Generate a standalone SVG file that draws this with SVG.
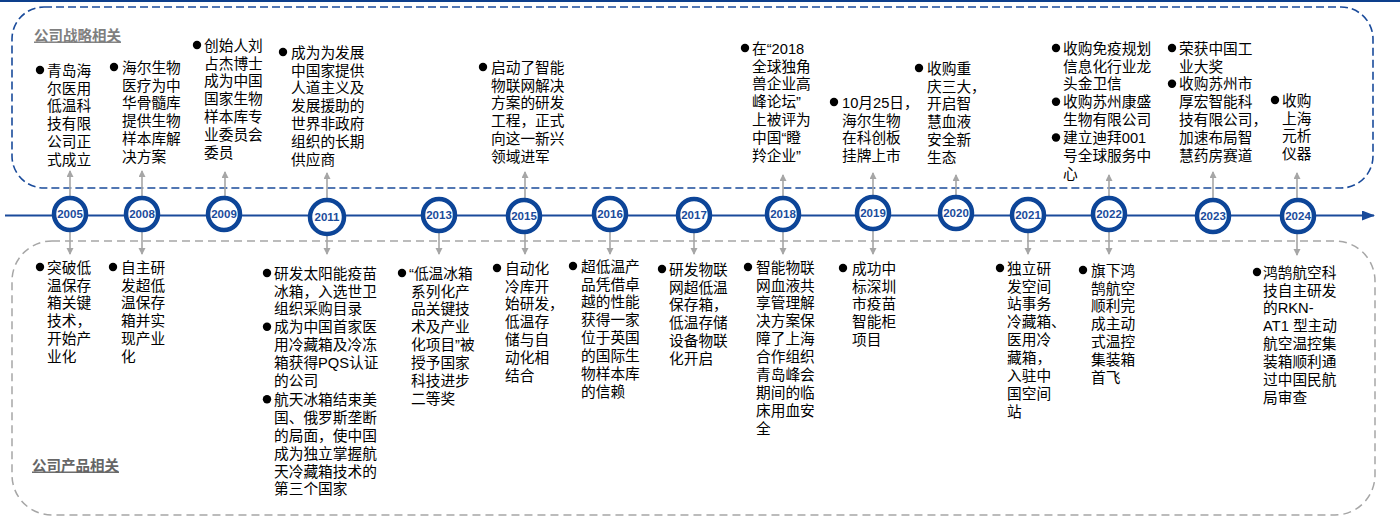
<svg xmlns="http://www.w3.org/2000/svg" width="1400" height="517" viewBox="0 0 1400 517">
<style>
.t{font-family:"Liberation Sans","Noto Sans CJK SC",sans-serif;font-size:14.7px;fill:#000}
.b{fill:#000}
.yr{font-family:"Liberation Sans",Arial,sans-serif;font-size:11.5px;font-weight:bold;fill:#1a4b9b;text-anchor:middle}
.ring{fill:#fff;stroke:#0d4598;stroke-width:4.5}
.con{stroke:#a6a6a6;stroke-width:1.6;fill:none;marker-end:url(#ga)}
.ttl{font-family:"Liberation Sans","Noto Sans CJK SC",sans-serif;font-size:14.5px;font-weight:bold;text-decoration:underline}
</style>
<defs>
<marker id="ga" markerUnits="userSpaceOnUse" markerWidth="8" markerHeight="8" refX="6" refY="3.5" orient="auto"><path d="M0,0 L7,3.5 L0,7 Z" fill="#a6a6a6"/></marker>
<marker id="ba" markerUnits="userSpaceOnUse" markerWidth="14" markerHeight="12" refX="12" refY="5" orient="auto"><path d="M0,0 L13,5 L0,10 Z" fill="#1a4b9b"/></marker>
</defs>
<rect x="0" y="0" width="1400" height="2" fill="#0d3f8c"/>
<g id="frames">
<rect x="12" y="7" width="1361" height="181" rx="32" ry="32" fill="none" stroke="#1a4b9b" stroke-width="1.6" stroke-dasharray="8,4"/>
<rect x="12" y="241" width="1363" height="274" rx="40" ry="40" fill="none" stroke="#a6a6a6" stroke-width="1.5" stroke-dasharray="8,5"/>
<text class="ttl" x="34" y="40.5" fill="#7f7f7f">公司战略相关</text>
<text class="ttl" x="32" y="470.5" fill="#666">公司产品相关</text>
</g>
<g id="connectors">
<line x1="5" y1="215.5" x2="1374" y2="215.5" stroke="#1a4b9b" stroke-width="2" marker-end="url(#ba)"/>
<line class="con" x1="70" y1="196" x2="70" y2="171"/>
<line class="con" x1="142" y1="196" x2="142" y2="171"/>
<line class="con" x1="225" y1="196" x2="225" y2="172"/>
<line class="con" x1="327" y1="198" x2="327" y2="173"/>
<line class="con" x1="525" y1="198" x2="525" y2="172"/>
<line class="con" x1="783" y1="196" x2="783" y2="175"/>
<line class="con" x1="873" y1="195" x2="873" y2="173"/>
<line class="con" x1="956" y1="195" x2="956" y2="175"/>
<line class="con" x1="1109" y1="196" x2="1109" y2="175"/>
<line class="con" x1="1213" y1="198" x2="1213" y2="172"/>
<line class="con" x1="1297" y1="198" x2="1297" y2="173"/>
<line class="con" x1="70" y1="232" x2="70" y2="254"/>
<line class="con" x1="142" y1="232" x2="142" y2="254"/>
<line class="con" x1="327" y1="235" x2="327" y2="254"/>
<line class="con" x1="439" y1="233" x2="439" y2="254"/>
<line class="con" x1="525" y1="234" x2="525" y2="254"/>
<line class="con" x1="610" y1="232" x2="610" y2="254"/>
<line class="con" x1="694" y1="233" x2="694" y2="254"/>
<line class="con" x1="783" y1="232" x2="783" y2="254"/>
<line class="con" x1="873" y1="231" x2="873" y2="254"/>
<line class="con" x1="1028" y1="233" x2="1028" y2="254"/>
<line class="con" x1="1109" y1="232" x2="1109" y2="254"/>
<line class="con" x1="1297" y1="234" x2="1297" y2="255"/>
</g>
<g id="y2005"><circle class="ring" cx="70" cy="214" r="16"/><text class="yr" x="70" y="218">2005</text></g>
<g id="y2008"><circle class="ring" cx="142" cy="214" r="16"/><text class="yr" x="142" y="218">2008</text></g>
<g id="y2009"><circle class="ring" cx="224" cy="214" r="16"/><text class="yr" x="224" y="218">2009</text></g>
<g id="y2011"><circle class="ring" cx="327" cy="217" r="17"/><text class="yr" x="327" y="221">2011</text></g>
<g id="y2013"><circle class="ring" cx="439" cy="215" r="16"/><text class="yr" x="439" y="219">2013</text></g>
<g id="y2015"><circle class="ring" cx="524" cy="216" r="16"/><text class="yr" x="524" y="220">2015</text></g>
<g id="y2016"><circle class="ring" cx="610" cy="214" r="16"/><text class="yr" x="610" y="218">2016</text></g>
<g id="y2017"><circle class="ring" cx="694" cy="215" r="16"/><text class="yr" x="694" y="219">2017</text></g>
<g id="y2018"><circle class="ring" cx="783" cy="214" r="16"/><text class="yr" x="783" y="218">2018</text></g>
<g id="y2019"><circle class="ring" cx="873" cy="213" r="16"/><text class="yr" x="873" y="217">2019</text></g>
<g id="y2020"><circle class="ring" cx="956" cy="213" r="16"/><text class="yr" x="956" y="217">2020</text></g>
<g id="y2021"><circle class="ring" cx="1028" cy="215" r="16"/><text class="yr" x="1028" y="219">2021</text></g>
<g id="y2022"><circle class="ring" cx="1109" cy="214" r="16"/><text class="yr" x="1109" y="218">2022</text></g>
<g id="y2023"><circle class="ring" cx="1213" cy="216" r="16"/><text class="yr" x="1213" y="220">2023</text></g>
<g id="y2024"><circle class="ring" cx="1298" cy="216" r="16"/><text class="yr" x="1298" y="220">2024</text></g>

<g id="s2005"><circle class="b" cx="40" cy="70" r="4.2"/><text class="t" x="47" y="75.6"><tspan x="47">青岛海</tspan><tspan x="47" dy="17.9">尔医用</tspan><tspan x="47" dy="17.9">低温科</tspan><tspan x="47" dy="17.9">技有限</tspan><tspan x="47" dy="17.9">公司正</tspan><tspan x="47" dy="17.9">式成立</tspan></text></g>
<g id="s2008"><circle class="b" cx="114" cy="67" r="4.2"/><text class="t" x="122" y="72.6"><tspan x="122">海尔生物</tspan><tspan x="122" dy="17.9">医疗为中</tspan><tspan x="122" dy="17.9">华骨髓库</tspan><tspan x="122" dy="17.9">提供生物</tspan><tspan x="122" dy="17.9">样本库解</tspan><tspan x="122" dy="17.9">决方案</tspan></text></g>
<g id="s2009"><circle class="b" cx="197" cy="45" r="4.2"/><text class="t" x="204" y="50.6"><tspan x="204">创始人刘</tspan><tspan x="204" dy="17.9">占杰博士</tspan><tspan x="204" dy="17.9">成为中国</tspan><tspan x="204" dy="17.9">国家生物</tspan><tspan x="204" dy="17.9">样本库专</tspan><tspan x="204" dy="17.9">业委员会</tspan><tspan x="204" dy="17.9">委员</tspan></text></g>
<g id="s2011"><circle class="b" cx="283" cy="52" r="4.2"/><text class="t" x="291" y="57.6"><tspan x="291">成为为发展</tspan><tspan x="291" dy="17.9">中国家提供</tspan><tspan x="291" dy="17.9">人道主义及</tspan><tspan x="291" dy="17.9">发展援助的</tspan><tspan x="291" dy="17.9">世界非政府</tspan><tspan x="291" dy="17.9">组织的长期</tspan><tspan x="291" dy="17.9">供应商</tspan></text></g>
<g id="s2015"><circle class="b" cx="483" cy="67" r="4.2"/><text class="t" x="491" y="72.6"><tspan x="491">启动了智能</tspan><tspan x="491" dy="17.9">物联网解决</tspan><tspan x="491" dy="17.9">方案的研发</tspan><tspan x="491" dy="17.9">工程，正式</tspan><tspan x="491" dy="17.9">向这一新兴</tspan><tspan x="491" dy="17.9">领域进军</tspan></text></g>
<g id="s2018"><circle class="b" cx="745" cy="48" r="4.2"/><text class="t" x="752" y="53.6"><tspan x="752">在“2018</tspan><tspan x="752" dy="17.9">全球独角</tspan><tspan x="752" dy="17.9">兽企业高</tspan><tspan x="752" dy="17.9">峰论坛”</tspan><tspan x="752" dy="17.9">上被评为</tspan><tspan x="752" dy="17.9">中国“瞪</tspan><tspan x="752" dy="17.9">羚企业”</tspan></text></g>
<g id="s2019"><circle class="b" cx="834" cy="102" r="4.2"/><text class="t" x="842" y="107.6"><tspan x="842">10月25日，</tspan><tspan x="842" dy="17.9">海尔生物</tspan><tspan x="842" dy="17.9">在科创板</tspan><tspan x="842" dy="17.9">挂牌上市</tspan></text></g>
<g id="s2020"><circle class="b" cx="919" cy="68" r="4.2"/><text class="t" x="927" y="73.6"><tspan x="927">收购重</tspan><tspan x="927" dy="17.9">庆三大，</tspan><tspan x="927" dy="17.9">开启智</tspan><tspan x="927" dy="17.9">慧血液</tspan><tspan x="927" dy="17.9">安全新</tspan><tspan x="927" dy="17.9">生态</tspan></text></g>
<g id="s2022"><circle class="b" cx="1056" cy="48" r="4.2"/><circle class="b" cx="1056" cy="101.7" r="4.2"/><circle class="b" cx="1056" cy="137.5" r="4.2"/><text class="t" x="1063" y="53.6"><tspan x="1063">收购免疫规划</tspan><tspan x="1063" dy="17.9">信息化行业龙</tspan><tspan x="1063" dy="17.9">头金卫信</tspan><tspan x="1063" dy="17.9">收购苏州康盛</tspan><tspan x="1063" dy="17.9">生物有限公司</tspan><tspan x="1063" dy="17.9">建立迪拜001</tspan><tspan x="1063" dy="17.9">号全球服务中</tspan><tspan x="1063" dy="17.9">心</tspan></text></g>
<g id="s2023"><circle class="b" cx="1172" cy="48" r="4.2"/><circle class="b" cx="1172" cy="83.8" r="4.2"/><text class="t" x="1179" y="53.6"><tspan x="1179">荣获中国工</tspan><tspan x="1179" dy="17.9">业大奖</tspan><tspan x="1179" dy="17.9">收购苏州市</tspan><tspan x="1179" dy="17.9">厚宏智能科</tspan><tspan x="1179" dy="17.9">技有限公司，</tspan><tspan x="1179" dy="17.9">加速布局智</tspan><tspan x="1179" dy="17.9">慧药房赛道</tspan></text></g>
<g id="s2024"><circle class="b" cx="1275" cy="100" r="4.2"/><text class="t" x="1282" y="105.6"><tspan x="1282">收购</tspan><tspan x="1282" dy="17.9">上海</tspan><tspan x="1282" dy="17.9">元析</tspan><tspan x="1282" dy="17.9">仪器</tspan></text></g>

<g id="p2005"><circle class="b" cx="40" cy="267" r="4.2"/><text class="t" x="47" y="272.6"><tspan x="47">突破低</tspan><tspan x="47" dy="17.9">温保存</tspan><tspan x="47" dy="17.9">箱关键</tspan><tspan x="47" dy="17.9">技术，</tspan><tspan x="47" dy="17.9">开始产</tspan><tspan x="47" dy="17.9">业化</tspan></text></g>
<g id="p2008"><circle class="b" cx="113" cy="267" r="4.2"/><text class="t" x="121" y="272.6"><tspan x="121">自主研</tspan><tspan x="121" dy="17.9">发超低</tspan><tspan x="121" dy="17.9">温保存</tspan><tspan x="121" dy="17.9">箱并实</tspan><tspan x="121" dy="17.9">现产业</tspan><tspan x="121" dy="17.9">化</tspan></text></g>
<g id="p2011"><circle class="b" cx="267" cy="273" r="4.2"/><circle class="b" cx="267" cy="326.7" r="4.2"/><circle class="b" cx="267" cy="399.3" r="4.2"/><text class="t" x="274" y="278.6"><tspan x="274">研发太阳能疫苗</tspan><tspan x="274" dy="17.9">冰箱，入选世卫</tspan><tspan x="274" dy="17.9">组织采购目录</tspan><tspan x="274" dy="17.9">成为中国首家医</tspan><tspan x="274" dy="17.9">用冷藏箱及冷冻</tspan><tspan x="274" dy="17.9">箱获得PQS认证</tspan><tspan x="274" dy="17.9">的公司</tspan><tspan x="274" dy="18.9">航天冰箱结束美</tspan><tspan x="274" dy="17.9">国、俄罗斯垄断</tspan><tspan x="274" dy="17.9">的局面，使中国</tspan><tspan x="274" dy="17.9">成为独立掌握航</tspan><tspan x="274" dy="17.9">天冷藏箱技术的</tspan><tspan x="274" dy="17.9">第三个国家</tspan></text></g>
<g id="p2013"><circle class="b" cx="402" cy="273" r="4.2"/><text class="t" x="409" y="278.6"><tspan x="409">“低温冰箱</tspan><tspan x="411" dy="17.9">系列化产</tspan><tspan x="411" dy="17.9">品关键技</tspan><tspan x="411" dy="17.9">术及产业</tspan><tspan x="411" dy="17.9">化项目”被</tspan><tspan x="411" dy="17.9">授予国家</tspan><tspan x="411" dy="17.9">科技进步</tspan><tspan x="411" dy="17.9">二等奖</tspan></text></g>
<g id="p2015"><circle class="b" cx="497" cy="268" r="4.2"/><text class="t" x="505" y="273.6"><tspan x="505">自动化</tspan><tspan x="505" dy="17.9">冷库开</tspan><tspan x="505" dy="17.9">始研发，</tspan><tspan x="505" dy="17.9">低温存</tspan><tspan x="505" dy="17.9">储与自</tspan><tspan x="505" dy="17.9">动化相</tspan><tspan x="505" dy="17.9">结合</tspan></text></g>
<g id="p2016"><circle class="b" cx="573" cy="266" r="4.2"/><text class="t" x="581" y="271.6"><tspan x="581">超低温产</tspan><tspan x="581" dy="17.9">品凭借卓</tspan><tspan x="581" dy="17.9">越的性能</tspan><tspan x="581" dy="17.9">获得一家</tspan><tspan x="581" dy="17.9">位于英国</tspan><tspan x="581" dy="17.9">的国际生</tspan><tspan x="581" dy="17.9">物样本库</tspan><tspan x="581" dy="17.9">的信赖</tspan></text></g>
<g id="p2017"><circle class="b" cx="662" cy="269" r="4.2"/><text class="t" x="669" y="274.6"><tspan x="669">研发物联</tspan><tspan x="669" dy="17.9">网超低温</tspan><tspan x="669" dy="17.9">保存箱，</tspan><tspan x="669" dy="17.9">低温存储</tspan><tspan x="669" dy="17.9">设备物联</tspan><tspan x="669" dy="17.9">化开启</tspan></text></g>
<g id="p2018"><circle class="b" cx="748" cy="267" r="4.2"/><text class="t" x="756" y="272.6"><tspan x="756">智能物联</tspan><tspan x="756" dy="17.9">网血液共</tspan><tspan x="756" dy="17.9">享管理解</tspan><tspan x="756" dy="17.9">决方案保</tspan><tspan x="756" dy="17.9">障了上海</tspan><tspan x="756" dy="17.9">合作组织</tspan><tspan x="756" dy="17.9">青岛峰会</tspan><tspan x="756" dy="17.9">期间的临</tspan><tspan x="756" dy="17.9">床用血安</tspan><tspan x="756" dy="17.9">全</tspan></text></g>
<g id="p2019"><circle class="b" cx="843" cy="268" r="4.2"/><text class="t" x="852" y="273.6"><tspan x="852">成功中</tspan><tspan x="852" dy="17.9">标深圳</tspan><tspan x="852" dy="17.9">市疫苗</tspan><tspan x="852" dy="17.9">智能柜</tspan><tspan x="852" dy="17.9">项目</tspan></text></g>
<g id="p2021"><circle class="b" cx="1000" cy="268" r="4.2"/><text class="t" x="1007" y="273.6"><tspan x="1007">独立研</tspan><tspan x="1007" dy="17.9">发空间</tspan><tspan x="1007" dy="17.9">站事务</tspan><tspan x="1007" dy="17.9">冷藏箱、</tspan><tspan x="1007" dy="17.9">医用冷</tspan><tspan x="1007" dy="17.9">藏箱，</tspan><tspan x="1007" dy="17.9">入驻中</tspan><tspan x="1007" dy="17.9">国空间</tspan><tspan x="1007" dy="17.9">站</tspan></text></g>
<g id="p2022"><circle class="b" cx="1083" cy="270" r="4.2"/><text class="t" x="1091" y="275.6"><tspan x="1091">旗下鸿</tspan><tspan x="1091" dy="17.9">鹄航空</tspan><tspan x="1091" dy="17.9">顺利完</tspan><tspan x="1091" dy="17.9">成主动</tspan><tspan x="1091" dy="17.9">式温控</tspan><tspan x="1091" dy="17.9">集装箱</tspan><tspan x="1091" dy="17.9">首飞</tspan></text></g>
<g id="p2024"><circle class="b" cx="1257" cy="272" r="4.2"/><text class="t" x="1263" y="277.6"><tspan x="1263">鸿鹄航空科</tspan><tspan x="1263" dy="17.9">技自主研发</tspan><tspan x="1263" dy="17.9">的RKN-</tspan><tspan x="1263" dy="17.9">AT1 型主动</tspan><tspan x="1263" dy="17.9">航空温控集</tspan><tspan x="1263" dy="17.9">装箱顺利通</tspan><tspan x="1263" dy="17.9">过中国民航</tspan><tspan x="1263" dy="17.9">局审查</tspan></text></g>
</svg>
